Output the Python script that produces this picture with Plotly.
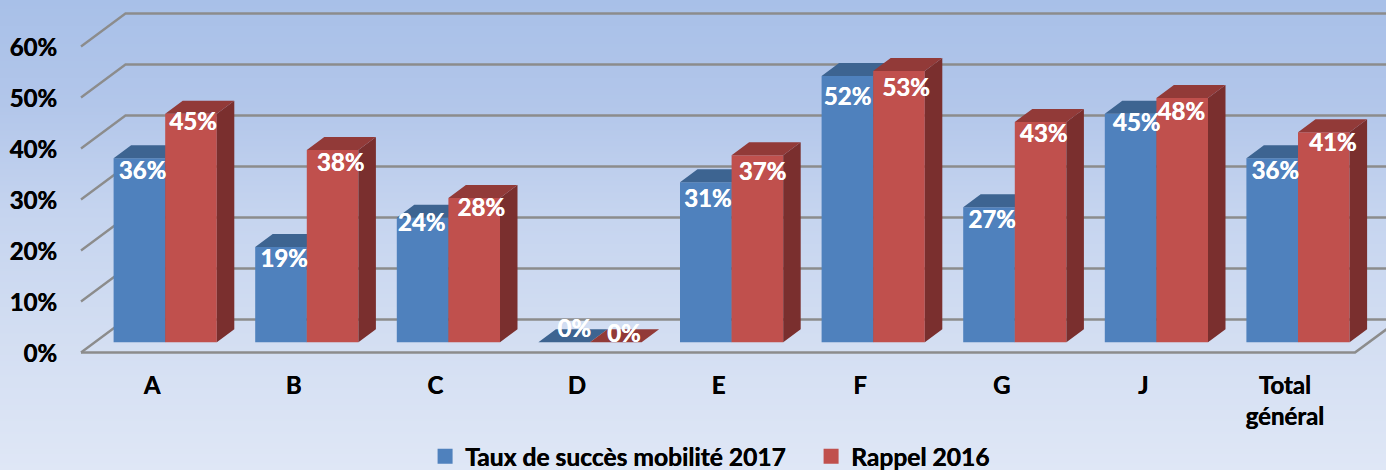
import plotly.graph_objects as go

# ---- data ----
categories = ["A", "B", "C", "D", "E", "F", "G", "J", "Total<br>général"]
series_2017 = [36.1, 18.7, 24.4, 0, 31.4, 52.2, 26.5, 44.8, 36.1]
series_2016 = [44.8, 37.7, 28.3, 0, 36.7, 53.2, 43.2, 47.9, 41.2]
labels_2017 = ["36%", "19%", "24%", "0%", "31%", "52%", "27%", "45%", "36%"]
labels_2016 = ["45%", "38%", "28%", "0%", "37%", "53%", "43%", "48%", "41%"]
name_2017 = "Taux de succès mobilité 2017"
name_2016 = "Rappel 2016"
y_ticks = [0, 10, 20, 30, 40, 50, 60]
y_tick_labels = ["0%", "10%", "20%", "30%", "40%", "50%", "60%"]

# ---- layout constants (pixels of the 1386x470 canvas) ----
W, H = 1386, 470
PX_CAT, PX_PCT = 141.6, 5.1
BAR_W = 51.6
BAR_DX, BAR_DY = 17.5, 13.0
WALL_DX, WALL_DY = 44.5, 33.0
FRONT_LEFT, FRONT_RIGHT, FRONT_BASE = 81.0, 1355.0, 352.5
BAR_BASE = 342.3
TICK_X0, BAR_X0 = 152.0, 165.2
LABEL_DROP = 3.5

# label nudges (px) relative to the centre of each bar's front top edge
nudge_x_2017 = [3, 3, -1, 10, 2, 0, 3, 6, 3]
nudge_y_2017 = [11, 11, 4, -15, 15, 19, 11, 8, 11]
nudge_x_2016 = [2, 8, 7, 8, 5, 7, 3, -1, 9]
nudge_y_2016 = [7, 11, 9, -10, 15, 16, 11, 12, 9]

C_BLUE, C_BLUE_TOP, C_BLUE_SIDE = "#4f81bd", "#3d6491", "#32527a"
C_RED, C_RED_TOP, C_RED_SIDE = "#c0504d", "#923a38", "#7a2f2e"
C_GRID = "#8c8c8c"
bg_stops = [(0, "#a8c0e8"), (0.22, "#b2c6ea"), (0.45, "#c5d4ef"),
            (0.72, "#d3def2"), (1, "#dfe7f6")]

# ---- scales: wall axes (x, y), bar axes (x2/y2 and x3/y3) ----
x_range_wall = [-TICK_X0 / PX_CAT, (W - TICK_X0) / PX_CAT]
y_range_wall = [(FRONT_BASE - H) / PX_PCT, FRONT_BASE / PX_PCT]
x_range_bar = [-BAR_X0 / PX_CAT, (W - BAR_X0) / PX_CAT]
y_range_bar = [(BAR_BASE - H) / PX_PCT, BAR_BASE / PX_PCT]

idx = list(range(len(categories)))
w = BAR_W / PX_CAT
ddx, ddy = BAR_DX / PX_CAT, BAR_DY / PX_PCT
wdx, wdy = WALL_DX / PX_CAT, WALL_DY / PX_PCT
wall_l = (FRONT_LEFT - TICK_X0) / PX_CAT
wall_r = (FRONT_RIGHT - TICK_X0) / PX_CAT

fig = go.Figure()

# background gradient
fig.add_trace(go.Heatmap(
    x=[x_range_wall[0], x_range_wall[1]],
    y=[y_range_wall[1], y_range_wall[0]],
    z=[[0, 0], [1, 1]],
    colorscale=[[a, b] for a, b in bg_stops],
    zmin=0, zmax=1, zsmooth="best", showscale=False, hoverinfo="skip",
    xaxis="x", yaxis="y"))

# walls: gridlines on the left wall and back wall, floor outline
grid_x, grid_y = [], []
for t in y_ticks:
    grid_x += [wall_l, wall_l + wdx, x_range_wall[1], None]
    grid_y += [t, t + wdy, t + wdy, None]
fig.add_trace(go.Scatter(x=grid_x, y=grid_y, mode="lines",
                         line=dict(color=C_GRID, width=2.3), showlegend=False,
                         hoverinfo="skip", xaxis="x", yaxis="y"))
fig.add_trace(go.Scatter(x=[wall_l, wall_r, wall_r + wdx], y=[0, 0, wdy], mode="lines",
                         line=dict(color=C_GRID, width=2.6), showlegend=False,
                         hoverinfo="skip", xaxis="x", yaxis="y"))


def faces(values, offset):
    """Top and side faces of the faux 3D bars, from the values."""
    tx, ty, sx, sy = [], [], [], []
    for i, v in zip(idx, values):
        l = i + offset
        r = l + w
        tx += [l, r, r + ddx, l + ddx, l, None]
        ty += [v, v, v + ddy, v + ddy, v, None]
        if v > 0:
            sx += [r, r + ddx, r + ddx, r, r, None]
            sy += [0, ddy, v + ddy, v, 0, None]
    return tx, ty, sx, sy


def add_series(values, name, offset, c_front, c_top, c_side, xa, ya):
    fig.add_trace(go.Bar(x=idx, y=values, width=w, offset=offset, name=name,
                         legendgroup=name, showlegend=False,
                         marker=dict(color=c_front, line=dict(width=0)),
                         xaxis=xa, yaxis=ya))
    tx, ty, sx, sy = faces(values, offset)
    for fx, fy, col in ((sx, sy, c_side), (tx, ty, c_top)):
        fig.add_trace(go.Scatter(x=fx, y=fy, mode="lines", fill="toself", fillcolor=col,
                                 line=dict(width=0), showlegend=False, hoverinfo="skip",
                                 xaxis=xa, yaxis=ya))
    # legend key: a square swatch for the series
    fig.add_trace(go.Scatter(x=[None], y=[None], mode="markers", name=name, legendgroup=name,
                             marker=dict(symbol="square", size=15, color=c_front),
                             xaxis=xa, yaxis=ya))


add_series(series_2017, name_2017, -w, C_BLUE, C_BLUE_TOP, C_BLUE_SIDE, "x2", "y2")
add_series(series_2016, name_2016, 0, C_RED, C_RED_TOP, C_RED_SIDE, "x3", "y3")

white_bold = "0.4px 0 0 #ffffff"
black_bold = "0.4px 0 0 #000000"

# value labels, on the top layer
for values, texts, off, nx, ny in (
        (series_2017, labels_2017, -w / 2, nudge_x_2017, nudge_y_2017),
        (series_2016, labels_2016, w / 2, nudge_x_2016, nudge_y_2016)):
    fig.add_trace(go.Scatter(
        x=[i + off + dx / PX_CAT for i, dx in zip(idx, nx)],
        y=[v - (dy + LABEL_DROP) / PX_PCT for v, dy in zip(values, ny)],
        text=texts, mode="text", textposition="middle center",
        textfont=dict(family="Lato", size=24, color="white", weight="bold", shadow=white_bold),
        showlegend=False, hoverinfo="skip", xaxis="x3", yaxis="y3"))

axis_font = dict(family="Lato", size=24, color="black", weight="bold", shadow=black_bold)
hidden = dict(visible=False, fixedrange=True)
fig.update_layout(
    width=W, height=H, autosize=False,
    margin=dict(l=0, r=0, t=0, b=0, pad=0, autoexpand=False),
    barmode="overlay",
    paper_bgcolor="#dfe7f6", plot_bgcolor="rgba(0,0,0,0)",
    showlegend=True,
    legend=dict(orientation="h", x=0.3067, y=-0.0187, xanchor="left", yanchor="bottom",
                font=dict(family="Lato", size=24.6, color="black", weight="bold", shadow=black_bold),
                bgcolor="rgba(0,0,0,0)", itemwidth=30, traceorder="normal",
                entrywidth=341, entrywidthmode="pixels", itemsizing="trace"),
    xaxis=dict(range=x_range_wall, anchor="free", position=(H - FRONT_BASE) / H,
               tickmode="array", tickvals=idx, ticktext=categories, tickfont=axis_font,
               ticks="", ticklabelstandoff=16, showline=False, showgrid=False,
               zeroline=False, fixedrange=True),
    yaxis=dict(range=y_range_wall, anchor="free", position=FRONT_LEFT / W,
               tickmode="array", tickvals=y_ticks, ticktext=y_tick_labels, tickfont=axis_font,
               ticks="", ticklabelstandoff=24, ticklabelshift=1, showline=False, showgrid=False,
               zeroline=False, fixedrange=True),
    xaxis2=dict(range=x_range_bar, overlaying="x", anchor="y2", **hidden),
    yaxis2=dict(range=y_range_bar, overlaying="y", anchor="x2", **hidden),
    xaxis3=dict(range=x_range_bar, overlaying="x", anchor="y3", **hidden),
    yaxis3=dict(range=y_range_bar, overlaying="y", anchor="x3", **hidden),
)

fig.write_html("out.html", config={"displayModeBar": False},
               post_script="document.body.style.margin='0';document.documentElement.style.overflow='hidden';")
